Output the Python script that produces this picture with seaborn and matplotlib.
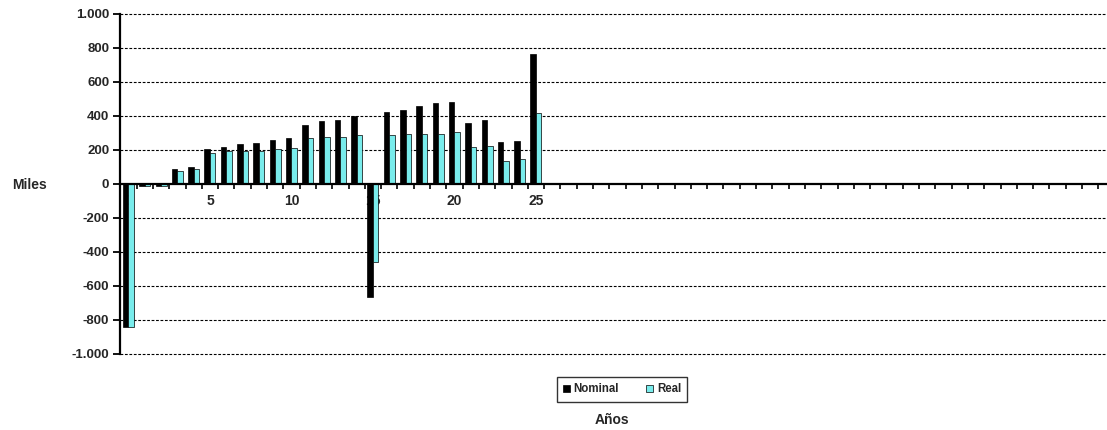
import numpy as np
import pandas as pd
import matplotlib
matplotlib.use("Agg")
import matplotlib.pyplot as plt
import seaborn as sns
from matplotlib.ticker import FuncFormatter, FixedLocator

years = list(range(26))
nominal = [-840, -14, -12, 88, 98, 207, 217, 235, 243, 260, 270, 349, 368, 376, 402,
           -667, 421, 437, 457, 474, 480, 359, 376, 245, 252, 765]
real = [-840, -13, -11, 78, 88, 181, 193, 195, 195, 205, 213, 268, 278, 278, 288,
        -461, 288, 296, 296, 296, 304, 215, 223, 137, 145, 415]
all_years = list(range(61))
tick_years = [0, 5, 10, 15, 20, 25]
series_names = ["Nominal", "Real"]
colors = ["#000000", "#66FFFF"]

df = pd.DataFrame({
    "Año": years * 2,
    "Valor": nominal + real,
    "Serie": [series_names[0]] * len(years) + [series_names[1]] * len(years),
})

sns.set_theme(style="white")
plt.rcParams["font.family"] = ["Liberation Sans", "DejaVu Sans"]
plt.rcParams["font.weight"] = "bold"

W, H = 1107, 430
fig = plt.figure(figsize=(W / 100, H / 100), dpi=100)
x0, x1, y0, y1 = 120.3, 120.3 + 61 * 16.3, 14, 354
ax = fig.add_axes([x0 / W, 1 - y1 / H, (x1 - x0) / W, (y1 - y0) / H])

sns.barplot(data=df, x="Año", y="Valor", hue="Serie", order=all_years,
            hue_order=series_names, palette=colors, width=0.68, dodge=True,
            edgecolor="black", linewidth=0.5, ax=ax, zorder=3)

ax.set_ylim(-1000, 1000)
ax.set_xlim(-0.5, len(all_years) - 0.5)
ax.set_yticks(np.arange(-1000, 1001, 200))
ax.yaxis.set_major_formatter(FuncFormatter(lambda v, p: f"{int(v):,}".replace(",", ".")))
ax.set_xticks(tick_years)
ax.set_xticklabels([str(t) for t in tick_years])
ax.xaxis.set_minor_locator(FixedLocator(np.arange(-0.5, len(all_years), 1.0)))
ax.tick_params(axis="x", which="major", length=0, pad=7, labelsize=10)
ax.tick_params(axis="x", which="minor", length=3.5, width=1.2, color="black", direction="out", bottom=True)
ax.tick_params(axis="y", which="major", length=5, width=1.3, color="black", direction="out",
               left=True, labelsize=9.5, pad=3)
for lab in ax.get_xticklabels() + ax.get_yticklabels():
    lab.set_fontweight("bold")

for v in np.arange(-1000, 1001, 200):
    if v != 0:
        ax.axhline(v, color="black", lw=0.8, ls=(0, (2.5, 1.5)), zorder=1, clip_on=False)

for s in ["top", "right"]:
    ax.spines[s].set_visible(False)
ax.spines["left"].set_color("black")
ax.spines["left"].set_linewidth(1.6)
ax.spines["bottom"].set_position(("data", 0))
ax.spines["bottom"].set_color("black")
ax.spines["bottom"].set_linewidth(1.6)
ax.spines["bottom"].set_zorder(4)
ax.set_xlabel("")
ax.set_ylabel("")

sns.move_legend(ax, loc="center", bbox_to_anchor=(622 / W, 1 - 389.5 / H),
                bbox_transform=fig.transFigure, ncol=2, title=None, frameon=True,
                fontsize=8.3, handlelength=0.6, handleheight=0.6, handletextpad=0.3,
                columnspacing=2.4, borderpad=0.55, borderaxespad=0, fancybox=False,
                edgecolor="black")
leg = ax.get_legend()
leg.get_frame().set_linewidth(1.0)
for t in leg.get_texts():
    t.set_fontweight("bold")

fig.text(29.5 / W, 1 - 185 / H, "Miles", ha="center", va="center", fontsize=10, fontweight="bold")
fig.text(612 / W, 1 - 420 / H, "Años", ha="center", va="center", fontsize=10, fontweight="bold")

fig.savefig("out.png", dpi=100, facecolor="white")
